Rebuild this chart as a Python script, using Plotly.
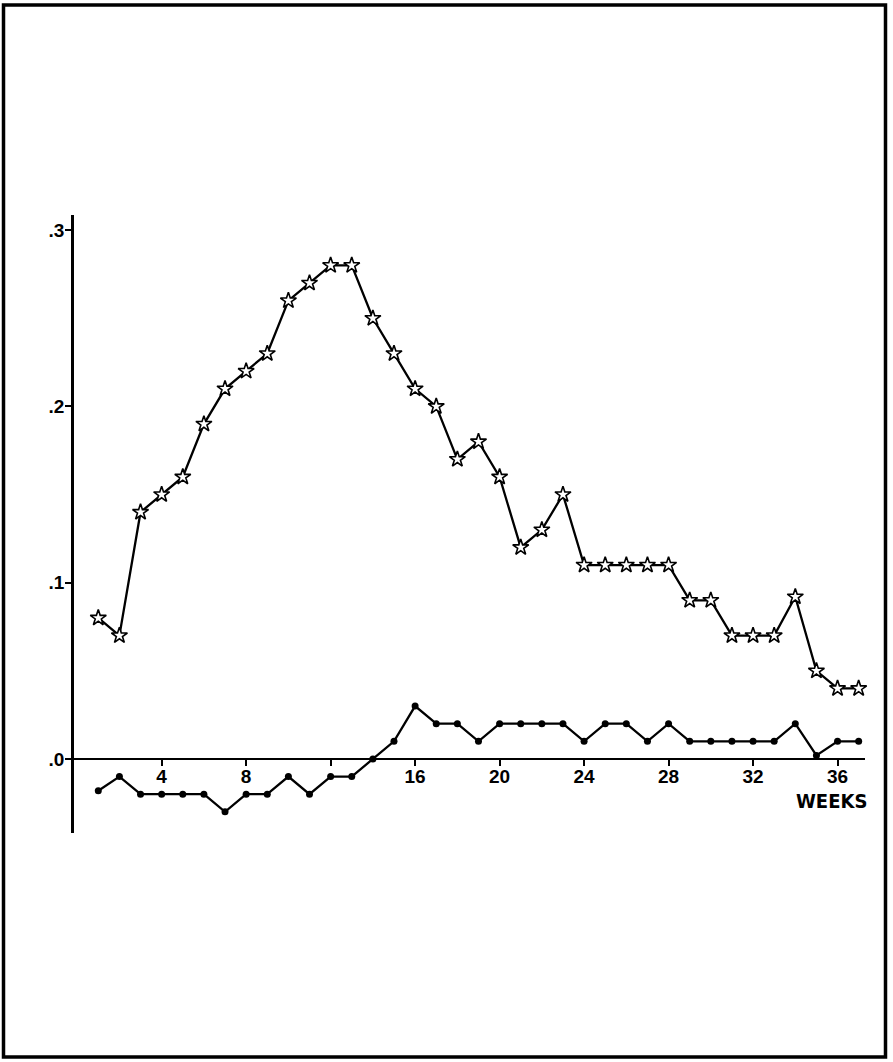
import plotly.graph_objects as go

# ---- data ----
weeks = list(range(1, 38))
star_values = [0.08, 0.07, 0.14, 0.15, 0.16, 0.19, 0.21, 0.22, 0.23, 0.26, 0.27, 0.28, 0.28,
               0.25, 0.23, 0.21, 0.20, 0.17, 0.18, 0.16, 0.12, 0.13, 0.15,
               0.11, 0.11, 0.11, 0.11, 0.11, 0.09, 0.09, 0.07, 0.07, 0.07, 0.092, 0.05, 0.04, 0.04]
dot_values = [-0.018, -0.01, -0.02, -0.02, -0.02, -0.02, -0.03, -0.02, -0.02, -0.01, -0.02, -0.01, -0.01,
              0.0, 0.01, 0.03, 0.02, 0.02, 0.01, 0.02, 0.02, 0.02, 0.02,
              0.01, 0.02, 0.02, 0.01, 0.02, 0.01, 0.01, 0.01, 0.01, 0.01, 0.02, 0.002, 0.01, 0.01]
x_tickvals = [4, 8, 12, 16, 20, 24, 28, 32, 36]
x_ticktext = ["4", "8", "", "16", "20", "24", "28", "32", "36"]
y_tickvals = [0.0, 0.1, 0.2, 0.3]
y_ticktext = [".0", ".1", ".2", ".3"]
x_label = "WEEKS"

# ---- geometry ----
W, H = 893, 1062
L, R, T, B = 74, 28, 215, 229
pw, ph = W - L - R, H - T - B
xr = [-0.15, 37.3]
yr = [-0.042, 0.3086]
pos0 = (0 - yr[0]) / (yr[1] - yr[0])


def px_x(px):
    return (px - L) / pw


def px_y(py):
    return (H - B - py) / ph


fig = go.Figure()
fig.add_trace(go.Scatter(
    x=weeks, y=dot_values, mode="lines+markers",
    line=dict(color="black", width=2.3),
    marker=dict(symbol="circle", size=7, color="black"),
    showlegend=False, cliponaxis=False))
fig.add_trace(go.Scatter(
    x=weeks, y=star_values, mode="lines+markers",
    line=dict(color="black", width=2.3),
    marker=dict(symbol="star", size=12, color="white", line=dict(color="black", width=1.6)),
    showlegend=False, cliponaxis=False))

tickfont = dict(family="Liberation Sans, Arial, sans-serif", size=19, color="black", weight="bold")

fig.update_layout(
    width=W, height=H, autosize=False,
    margin=dict(l=L, r=R, t=T, b=B, pad=0),
    paper_bgcolor="white", plot_bgcolor="white",
    xaxis=dict(range=xr, tickvals=x_tickvals, ticktext=x_ticktext,
               showgrid=False, zeroline=False, showline=True, linecolor="black", linewidth=2,
               anchor="free", position=pos0, ticks="outside", ticklen=6, tickwidth=1.5,
               tickcolor="black", tickfont=tickfont, ticklabelstandoff=-6),
    yaxis=dict(range=yr, tickvals=y_tickvals, ticktext=y_ticktext,
               showgrid=False, zeroline=False, showline=True, linecolor="black", linewidth=2.5,
               ticks="outside", ticklen=6, tickwidth=1.5, tickcolor="black", tickfont=tickfont,
               ticklabelstandoff=-3),
    shapes=[dict(type="rect", xref="paper", yref="paper",
                 x0=px_x(3.5), x1=px_x(885.5), y0=px_y(1057), y1=px_y(5),
                 line=dict(color="black", width=3.5))],
    annotations=[dict(text=x_label, xref="paper", yref="paper",
                      x=px_x(831), y=px_y(801), xanchor="center", yanchor="middle",
                      showarrow=False,
                      font=dict(family="DejaVu Sans Condensed, Liberation Sans Narrow, sans-serif",
                                size=20, color="black", weight="bold"))],
)

fig.write_html("out.html")
